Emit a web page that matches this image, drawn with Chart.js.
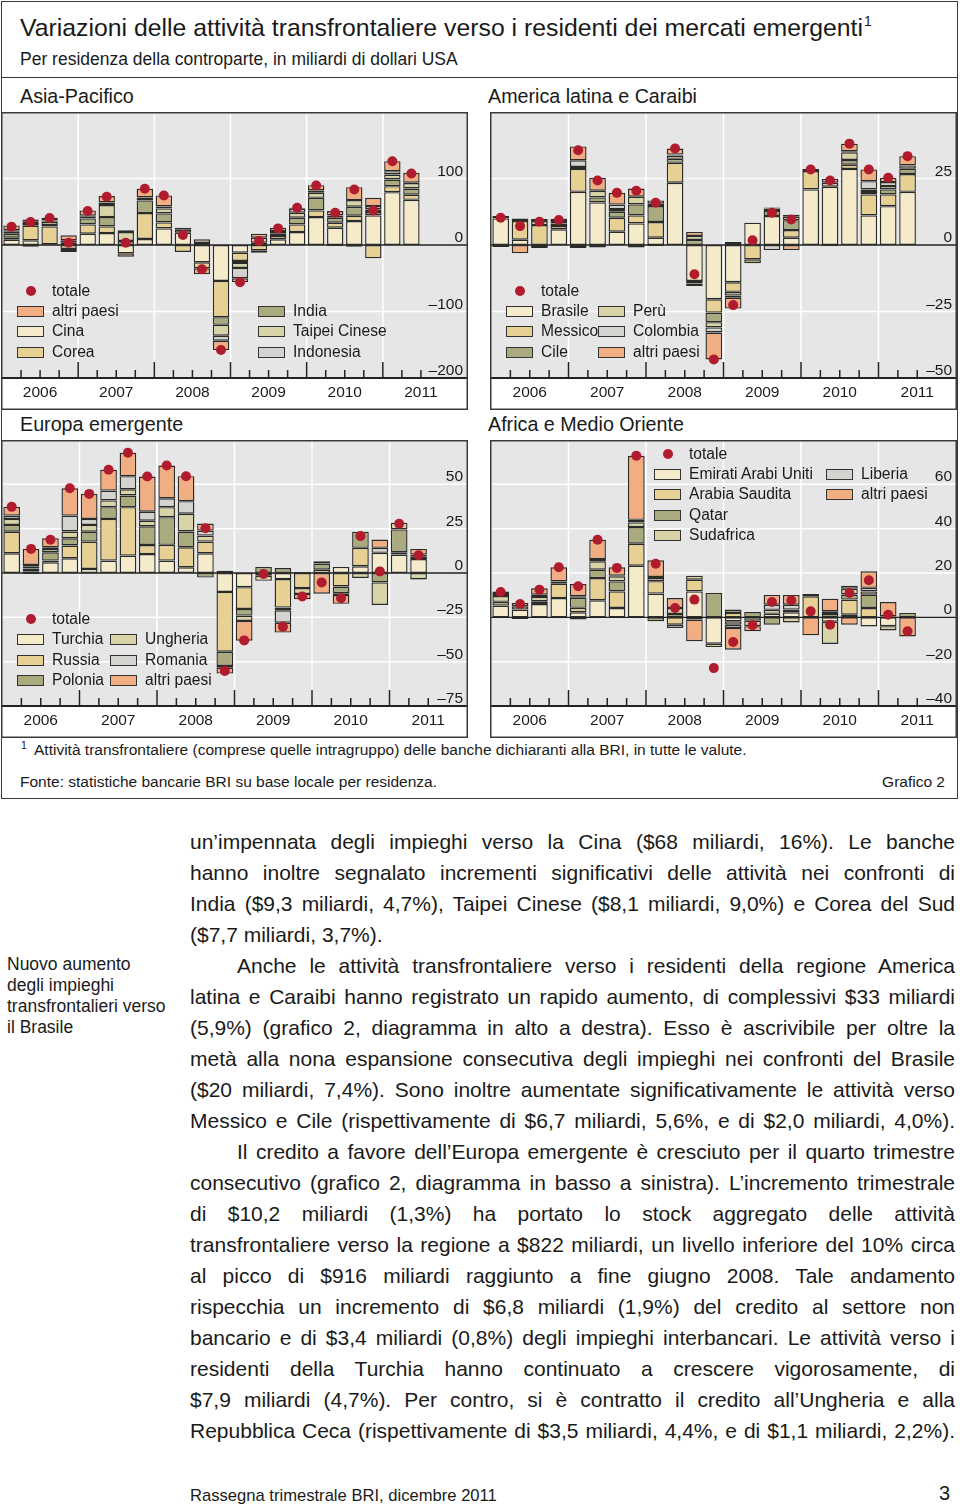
<!DOCTYPE html>
<html lang="it">
<head>
<meta charset="utf-8">
<script src="https://cdn.jsdelivr.net/npm/chart.js@4.4.0/dist/chart.umd.min.js"></script>
<style>
  body { margin:0; width:960px; height:1507px; position:relative; background:#fff; overflow:hidden;
         font-family:"Liberation Sans", Arial, Helvetica, sans-serif; color:#1a1a1a; }
  .t { position:absolute; white-space:nowrap; line-height:1; }
  canvas { position:absolute; }
  #riquadro { position:absolute; left:1px; top:1px; width:957px; height:798px; box-sizing:border-box; border:1.5px solid #3a3a3a; }
  .riga { position:absolute; left:1px; width:957px; height:0; border-top:1.5px solid #3a3a3a; }
  .sw { position:absolute; width:27px; height:11px; box-sizing:border-box; border:1.5px solid #333; }
  .dot { position:absolute; width:10px; height:10px; border-radius:50%; background:#b01c2e; }
  .lt { position:absolute; white-space:nowrap; font-size:15.6px; line-height:1; }
  .corpo { position:absolute; left:190px; width:765px; font-size:21px; line-height:1; white-space:nowrap;
           text-align:justify; text-align-last:justify; }
  .side { position:absolute; left:7px; font-size:17.5px; line-height:1; white-space:nowrap; }
</style>
</head>
<body>

<div id="riquadro"></div>
<div class="t" style="left:20px;top:14px;font-size:24.8px">Variazioni delle attività transfrontaliere verso i residenti dei mercati emergenti<sup style="font-size:14px;vertical-align:10px;margin-left:1px">1</sup></div>
<div class="t" style="left:20px;top:51px;font-size:17.5px">Per residenza della controparte, in miliardi di dollari USA</div>
<div class="riga" style="top:77px"></div>
<div class="t" style="left:20px;top:87px;font-size:19.7px">Asia-Pacifico</div>
<div class="t" style="left:488px;top:87px;font-size:19.7px">America latina e Caraibi</div>
<div class="t" style="left:20px;top:415px;font-size:19.7px">Europa emergente</div>
<div class="t" style="left:488px;top:415px;font-size:19.7px">Africa e Medio Oriente</div>

<canvas id="cAsia" width="467" height="298" style="left:1px;top:112px"></canvas>
<canvas id="cLat" width="467" height="298" style="left:490px;top:112px"></canvas>
<canvas id="cEu" width="467" height="298" style="left:1px;top:440px"></canvas>
<canvas id="cAf" width="467" height="298" style="left:490px;top:440px"></canvas>

<div id="legende"></div>

<div class="t" style="left:21px;top:740px;font-size:10.5px">1</div>
<div class="t" style="left:34px;top:742px;font-size:15.5px">Attività transfrontaliere (comprese quelle intragruppo) delle banche dichiaranti alla BRI, in tutte le valute.</div>
<div class="t" style="left:20px;top:774px;font-size:15.5px">Fonte: statistiche bancarie BRI su base locale per residenza.</div>
<div class="t" style="right:15px;top:774px;font-size:15.5px">Grafico 2</div>

<div class="side" style="top:956px">Nuovo aumento</div>
<div class="side" style="top:977px">degli impieghi</div>
<div class="side" style="top:998px">transfrontalieri verso</div>
<div class="side" style="top:1019px">il Brasile</div>

<div id="testo"></div>

<div class="t" style="left:190px;top:1488px;font-size:16.6px">Rassegna trimestrale BRI, dicembre 2011</div>
<div class="t" style="left:939px;top:1483px;font-size:20px">3</div>

<script>
// === DATI ===
const anni = ['2006', '2007', '2008', '2009', '2010', '2011'];
const trimestri = [];
anni.forEach(a => ['T1', 'T2', 'T3', 'T4'].forEach(q => trimestri.push(a + q)));

// Asia-Pacifico (2006T1 - 2011T2)
const asiaCina      = [8, 7, 1, null, 17, 18, -12.5, 9, 25, 18.5, -26, -54, -11.5, null, 8.5, 19.5, 42, 26, 36, 44.5, 79.5, 68];
const asiaCorea     = [3, 22, 27, -6, 14, 10, null, 39, 9, -10.5, -9, -54.5, -12.5, -8, 5, 11.5, 10, 7.5, 8, -20, 9, 7.7];
const asiaIndia     = [6, -2.5, 2, 4, 9, 14, 6, 19, 13.5, 4.5, 3, -11.5, -3, 3.5, 4, 10, 19, 7.5, 13.5, 5, 10, 9.3];
const asiaTaipei    = [3, 4, 5, -4.5, 2.5, 18, 13.5, 3.5, 7.5, 3, 5.5, -16.5, -7.5, 7.5, 3.5, 7.5, 7.5, 3.5, 10, 4, 7.5, 8.1];
const asiaIndonesia = [2, 2, 2, 3, 1.5, 4, 2.5, 1, 3, null, null, -7.5, -15.5, -3.5, null, 6, 3.5, -1.5, -2.5, 5, 5, 0.5];
const asiaAltri     = [7.5, 3.5, 4, 7.5, 8, 9.5, -5, 13, 16.5, null, -9, -14, -6, 6, 5, 1.5, 8, 6.5, 19.5, 12.5, 15, 15];
const asiaTotale    = [27.5, 34.5, 40.5, 3.5, 51, 72.5, 3.5, 84.5, 74.5, 15, -36.5, -158, -56, 6, 25, 56, 89.5, 48.5, 83.5, 52, 126, 107.5];
const asiaTick      = [100, 0, -100, -200];

// America latina e Caraibi
const latBrasile  = [10, 2, null, 5.9, 20, 16, 5, 8.1, 2.75, 23.4, -13.5, -20.4, -14, 8.4, 10.9, 2.75, 20.9, 21.9, 28.6, 11.1, 14.6, 20];
const latMessico  = [null, 7, 7.5, 1.25, 8.6, null, 5.25, 3, 5.9, 7.5, -1, -5, -3.6, -5.4, null, 2.85, 6.9, null, 1.6, 7.9, 4.4, 6.7];
const latCile     = [-0.75, 1, -1.1, 0.9, 0.75, 1.9, 2.25, 4.15, 6, 1.5, 1.9, -3.6, -1.4, -1.5, 1.9, 3.75, null, -0.4, 1.75, 0.9, 1.9, 2.0];
const latPeru     = [0.9, null, 1.5, 1, -1.1, 2.5, 1, 2.9, 0.9, 1.25, 1.5, -2, 1.1, null, 0.9, 1.3, null, 1.5, 2.9, 1, 1.25, 1.2];
const latColombia = [null, null, null, null, 2.5, -0.9, 1.7, -0.9, -0.4, 0.35, -0.9, -1.9, -0.8, null, -1.9, 0.75, 0.8, null, 0.35, 3.1, 1.5, null];
const latAltri    = [null, -3.1, 0.75, 0.85, 5.2, 4.85, 4.4, 3.1, 1.2, 2.25, 1.5, -10.1, -4.1, null, 0.4, -1.9, null, 1.5, 2.9, 4.4, 1.6, 3.5];
const latTotale   = [10.25, 7.1, 8.75, 9.4, 35.6, 24.25, 19.6, 20.4, 15.9, 36.25, -11, -43, -22.6, 1.75, 12.1, 9.6, 28.4, 24.25, 38.1, 28.4, 25.25, 33.4];
const latTick     = [25, 0, -25, -50];

// Europa emergente
const euTurchia  = [11.1, 1, 6, 8.3, 2.3, 7, 9.8, 10.7, 7, 3.2, 11.1, -10.7, -8, -1.5, -3.4, null, 1.9, 3.4, 3.8, 11.4, 10.4, 7.9];
const euRussia   = [12.2, 1.5, 1, 7.2, 15.4, 23.5, 27.3, 5.1, 8.9, 11.3, 6.6, -33.7, -12.3, null, -16.1, -8.5, null, -7.6, 10.4, null, 1.3, 1.5];
const euPolonia  = [3.8, -0.6, 4.7, 4.1, 5.6, 6.6, 6.6, 10.5, 15.6, 8.9, -2.6, -8, -3.7, 3.4, 2.8, 0.6, 3.4, -3.8, 9.1, -5.3, 12.9, 1];
const euUngheria = [3.4, 1, 1.9, 3.8, 3.8, 3.8, 3.5, 3.2, 5.6, 10, 3.4, -1, -3, -2.9, -1.5, -3.3, null, -1, -2.8, -12.7, 3.8, -3.5];
const euRomania  = [1.9, 1, 0.9, 9, 3.4, 5.6, 7.4, 5.1, 5, 7.1, 2.8, 1.3, null, null, -7, null, 1.3, null, null, 2.8, null, -0.3];
const euAltri    = [4.9, 9.1, 5.1, 15.4, 14.1, 11.7, 13.2, 19.8, 18.5, 14.1, 4, -3.3, -11.2, null, -5.6, -3, -11.7, -5, null, 4.7, null, 3.2];
const euTotale   = [37.3, 13.6, 18.8, 47.8, 44.6, 58.2, 67.8, 54.4, 60.6, 54.6, 25.2, -55.2, -38, -0.6, -30.3, -13.3, -5.3, -14.2, 20.8, 0.9, 27.8, 10];
const euTick     = [50, 25, 0, -25, -50, -75];

// Africa e Medio Oriente
const afEmirati   = [5.3, 3.5, 6, 8.7, 2.3, 7.7, 4.2, 23.3, 10.7, null, 11.7, -11.9, -1.8, null, 1.6, 2.3, null, -2, 1.2, -4.1, -4, null];
const afArabia    = [null, -0.75, null, 6.5, 2, 10, 7.5, 9.9, 5.6, -3.3, 5.3, null, 2, -1.5, null, 1.2, 9.5, null, 6.8, 4.2, null, null];
const afQatar     = [1.7, 1.5, 1.2, 1, 4.5, 3.8, 4.5, 7.5, -1.8, 1.5, null, 11, 1.5, 2.4, -3.3, null, null, 1.5, 2.3, 6, 0.4, 2];
const afSudafrica = [2.6, 1.5, 2, null, 0.75, 3.8, 2.3, 2.1, 1.5, 2.7, 1.8, -1.5, -1.5, -2.5, 1.8, -2.3, null, -10, 2.6, 1.5, -1.9, null];
const afLiberia   = [0.9, null, 1, null, -1, 1, 0.3, 1.2, 0.4, -1.5, -1, null, -1.5, null, 2.3, 2.2, 1, 1.2, 1.4, 1.6, null, null];
const afAltri     = [1.2, null, 2.9, 6.4, 5.45, 8.7, 3.8, 28.9, 7.5, 4.5, -9.8, null, -9.8, -2.3, 4.4, 4.4, -8.1, 5.7, -3.3, 7.5, 6.5, -8.6];
const afTotale    = [11.4, 6, 12.5, 22.6, 14, 35, 22.3, 72.9, 24.2, 4.2, 8, -22.9, -11.1, -3.6, 6.9, 7.7, 2.7, -3.3, 11, 16.7, 1.2, -6.3];
const afTick      = [60, 40, 20, 0, -20, -40];

// colori delle componenti (dal basso verso l'alto)
const colori = ['#f5ebcb', '#e6d093', '#a9ab7e', '#d9d4a7', '#d3d3d0', '#f2ae83'];
const rosso = '#b01c2e';
const FONT = '"Liberation Sans", Arial, sans-serif';

// === PLUGIN: sfondo, griglia, assi, cornice ===
const cornice = {
  id: 'cornice',
  beforeDatasetsDraw(chart, args, opt) {
    const { ctx, chartArea: a, scales: { x, y } } = chart;
    const w = chart.width;
    const slot = x.getPixelForValue(1) - x.getPixelForValue(0);
    ctx.save();
    ctx.fillStyle = '#e6e6e6';
    ctx.fillRect(0, a.top, w, a.bottom - a.top);
    ctx.strokeStyle = '#ffffff';
    ctx.lineWidth = 1.5;
    opt.ticks.forEach(v => {
      if (v === 0) return;
      const py = y.getPixelForValue(v);
      ctx.beginPath(); ctx.moveTo(0, py); ctx.lineTo(w, py); ctx.stroke();
    });
    for (let k = 1; k < anni.length; k++) {
      const px = x.getPixelForValue(4 * k) - slot / 2;
      ctx.beginPath(); ctx.moveTo(px, a.top); ctx.lineTo(px, a.bottom); ctx.stroke();
    }
    const y0 = y.getPixelForValue(0);
    ctx.strokeStyle = '#222';
    ctx.lineWidth = 1.3;
    ctx.beginPath(); ctx.moveTo(0, y0); ctx.lineTo(w, y0); ctx.stroke();
    ctx.restore();
  },
  afterDraw(chart, args, opt) {
    const { ctx, chartArea: a, scales: { x, y } } = chart;
    const w = chart.width, h = chart.height;
    const slot = x.getPixelForValue(1) - x.getPixelForValue(0);
    ctx.save();
    ctx.font = '15.5px ' + FONT;
    ctx.fillStyle = '#1a1a1a';
    // etichette asse y
    ctx.textAlign = 'right';
    ctx.textBaseline = 'alphabetic';
    let bordoEtichetta = w;
    opt.ticks.forEach(v => {
      const txt = v < 0 ? '\u2013' + Math.abs(v) : String(v);
      const py = y.getPixelForValue(v);
      ctx.fillText(txt, w - 5, py - 3);
      if (v === opt.ticks[opt.ticks.length - 1]) bordoEtichetta = w - 5 - ctx.measureText(txt).width - 3;
    });
    // asse inferiore e tacche
    ctx.strokeStyle = '#222';
    ctx.lineWidth = 1.5;
    const x0 = x.getPixelForValue(0) - slot / 2;
    for (let i = 1; i < trimestri.length; i++) {
      const px = x0 + i * slot;
      if (px > bordoEtichetta) continue;
      const len = i % 4 === 0 ? 16 : 8;
      ctx.beginPath(); ctx.moveTo(px, a.bottom); ctx.lineTo(px, a.bottom - len); ctx.stroke();
    }
    ctx.lineWidth = 2;
    ctx.beginPath(); ctx.moveTo(0, a.bottom); ctx.lineTo(w, a.bottom); ctx.stroke();
    // anni
    ctx.textAlign = 'center';
    ctx.textBaseline = 'middle';
    anni.forEach((an, k) => {
      const px = (x.getPixelForValue(4 * k + 1) + x.getPixelForValue(4 * k + 2)) / 2;
      ctx.fillText(an, px, a.bottom + 15);
    });
    // cornice
    ctx.strokeStyle = '#3a3a3a';
    ctx.lineWidth = 1.5;
    ctx.strokeRect(0.75, 0.75, w - 1.5, h - 1.5);
    ctx.restore();
  }
};

function creaGrafico(id, componenti, totale, tick, padSx, padDx) {
  const datasets = [{
    type: 'line',
    label: 'totale',
    data: totale,
    showLine: false,
    pointRadius: 5,
    pointHoverRadius: 5,
    pointBackgroundColor: rosso,
    pointBorderWidth: 0,
    stack: 'tot',
    order: 0
  }];
  componenti.forEach((dati, i) => datasets.push({
    type: 'bar',
    data: dati,
    backgroundColor: colori[i],
    borderColor: '#2b2b28',
    borderWidth: 1.4,
    borderSkipped: false,
    barPercentage: 0.86,
    categoryPercentage: 1,
    stack: 'comp',
    order: 1
  }));

  new Chart(document.getElementById(id), {
    type: 'bar',
    data: { labels: trimestri, datasets },
    options: {
      responsive: false,
      animation: false,
      devicePixelRatio: 1,
      layout: { autoPadding: false, padding: { left: padSx, right: padDx, top: 0, bottom: 32 } },
      plugins: { legend: { display: false }, tooltip: { enabled: false }, cornice: { ticks: tick } },
      scales: {
        x: { display: false, stacked: true },
        // min = ultimo tick, max = un passo sopra il primo tick
        y: { display: false, stacked: true, min: tick[tick.length - 1], max: 2 * tick[0] - tick[1] }
      }
    },
    plugins: [cornice]
  });
}

creaGrafico('cAsia', [asiaCina, asiaCorea, asiaIndia, asiaTaipei, asiaIndonesia, asiaAltri], asiaTotale, asiaTick, 1, 9);
creaGrafico('cLat', [latBrasile, latMessico, latCile, latPeru, latColombia, latAltri], latTotale, latTick, 1, 1);
creaGrafico('cEu', [euTurchia, euRussia, euPolonia, euUngheria, euRomania, euAltri], euTotale, euTick, 1, 1);
creaGrafico('cAf', [afEmirati, afArabia, afQatar, afSudafrica, afLiberia, afAltri], afTotale, afTick, 1, 1);

// === LEGENDE ===
const legende = [
  // [x riquadro, y centro, indice colore (-1 = punto), testo]
  [17, 291, -1, 'totale'], [17, 311, 5, 'altri paesi'], [17, 331, 0, 'Cina'], [17, 352, 1, 'Corea'],
  [258, 311, 2, 'India'], [258, 331, 3, 'Taipei Cinese'], [258, 352, 4, 'Indonesia'],
  [506, 291, -1, 'totale'], [506, 311, 0, 'Brasile'], [506, 331, 1, 'Messico'], [506, 352, 2, 'Cile'],
  [598, 311, 3, 'Perù'], [598, 331, 4, 'Colombia'], [598, 352, 5, 'altri paesi'],
  [17, 619, -1, 'totale'], [17, 639, 0, 'Turchia'], [17, 660, 1, 'Russia'], [17, 680, 2, 'Polonia'],
  [110, 639, 3, 'Ungheria'], [110, 660, 4, 'Romania'], [110, 680, 5, 'altri paesi'],
  [654, 454, -1, 'totale'], [654, 474, 0, 'Emirati Arabi Uniti'], [654, 494, 1, 'Arabia Saudita'],
  [654, 515, 2, 'Qatar'], [654, 535, 3, 'Sudafrica'],
  [826, 474, 4, 'Liberia'], [826, 494, 5, 'altri paesi']
];
const contLeg = document.getElementById('legende');
legende.forEach(([xs, yc, ci, txt]) => {
  const m = document.createElement('div');
  if (ci < 0) {
    m.className = 'dot';
    m.style.left = (xs + 9) + 'px';
    m.style.top = (yc - 5) + 'px';
  } else {
    m.className = 'sw';
    m.style.left = xs + 'px';
    m.style.top = (yc - 5.5) + 'px';
    m.style.background = colori[ci];
  }
  contLeg.appendChild(m);
  const l = document.createElement('div');
  l.className = 'lt';
  l.textContent = txt;
  l.style.left = (xs + 35) + 'px';
  l.style.top = (yc - 8) + 'px';
  contLeg.appendChild(l);
});

// === TESTO ===
const righe = [
  ['un’impennata degli impieghi verso la Cina ($68 miliardi, 16%). Le banche', 0, 1],
  ['hanno inoltre segnalato incrementi significativi delle attività nei confronti di', 0, 1],
  ['India ($9,3 miliardi, 4,7%), Taipei Cinese ($8,1 miliardi, 9,0%) e Corea del Sud', 0, 1],
  ['($7,7 miliardi, 3,7%).', 0, 0],
  ['Anche le attività transfrontaliere verso i residenti della regione America', 47, 1],
  ['latina e Caraibi hanno registrato un rapido aumento, di complessivi $33 miliardi', 0, 1],
  ['(5,9%) (grafico 2, diagramma in alto a destra). Esso è ascrivibile per oltre la', 0, 1],
  ['metà alla nona espansione consecutiva degli impieghi nei confronti del Brasile', 0, 1],
  ['($20 miliardi, 7,4%). Sono inoltre aumentate significativamente le attività verso', 0, 1],
  ['Messico e Cile (rispettivamente di $6,7 miliardi, 5,6%, e di $2,0 miliardi, 4,0%).', 0, 1],
  ['Il credito a favore dell’Europa emergente è cresciuto per il quarto trimestre', 47, 1],
  ['consecutivo (grafico 2, diagramma in basso a sinistra). L’incremento trimestrale', 0, 1],
  ['di $10,2 miliardi (1,3%) ha portato lo stock aggregato delle attività', 0, 1],
  ['transfrontaliere verso la regione a $822 miliardi, un livello inferiore del 10% circa', 0, 1],
  ['al picco di $916 miliardi raggiunto a fine giugno 2008. Tale andamento', 0, 1],
  ['rispecchia un incremento di $6,8 miliardi (1,9%) del credito al settore non', 0, 1],
  ['bancario e di $3,4 miliardi (0,8%) degli impieghi interbancari. Le attività verso i', 0, 1],
  ['residenti della Turchia hanno continuato a crescere vigorosamente, di', 0, 1],
  ['$7,9 miliardi (4,7%). Per contro, si è contratto il credito all’Ungheria e alla', 0, 1],
  ['Repubblica Ceca (rispettivamente di $3,5 miliardi, 4,4%, e di $1,1 miliardi, 2,2%).', 0, 1]
];
const contTesto = document.getElementById('testo');
righe.forEach(([txt, rientro, giust], i) => {
  const d = document.createElement('div');
  d.className = 'corpo';
  d.textContent = txt;
  d.style.top = (831 + i * 31) + 'px';
  d.style.left = (190 + rientro) + 'px';
  d.style.width = (765 - rientro) + 'px';
  if (!giust) { d.style.textAlign = 'left'; d.style.textAlignLast = 'left'; }
  contTesto.appendChild(d);
});
</script>
</body>
</html>
